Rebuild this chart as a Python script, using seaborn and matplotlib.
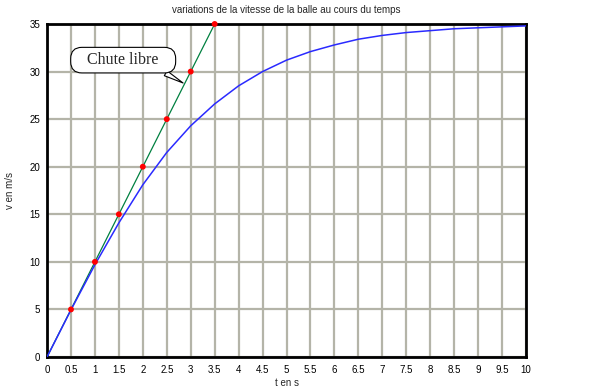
import numpy as np
import pandas as pd
import seaborn as sns
import matplotlib.pyplot as plt
from matplotlib.ticker import MultipleLocator, FuncFormatter

# vitesse de la balle
t_balle = [0, 0.5, 1, 1.5, 2, 2.5, 3, 3.5, 4, 4.5, 5, 5.5, 6, 6.5, 7, 7.5, 8, 8.5, 9, 9.5, 10]
v_balle = [0, 4.95, 9.7, 14.1, 18.1, 21.5, 24.3, 26.6, 28.5, 30.0, 31.2, 32.1, 32.8, 33.4,
           33.8, 34.1, 34.3, 34.5, 34.6, 34.7, 34.8]

# chute libre
t_libre = [0, 3.5]
v_libre = [0, 35]
t_points = [0.5, 1, 1.5, 2, 2.5, 3, 3.5]
v_points = [5, 10, 15, 20, 25, 30, 35]

df_balle = pd.DataFrame({'t': t_balle, 'v': v_balle})
df_libre = pd.DataFrame({'t': t_libre, 'v': v_libre})
df_points = pd.DataFrame({'t': t_points, 'v': v_points})

sns.set_style("white")
plt.rcParams['font.family'] = ['Liberation Sans', 'DejaVu Sans']

fig = plt.figure(figsize=(6.06, 3.92), dpi=100)
ax = fig.add_axes([0.0776, 0.0893, 0.7904, 0.8495])

sns.lineplot(data=df_libre, x='t', y='v', color='#008040', linewidth=0.9, ax=ax, zorder=3)
sns.lineplot(data=df_balle, x='t', y='v', color='#2a2aff', linewidth=1.1, ax=ax, zorder=3)
sns.scatterplot(data=df_points, x='t', y='v', color='red', s=18, edgecolor='none', ax=ax,
                zorder=4, clip_on=False)

ax.set_xlim(0, 10)
ax.set_ylim(0, 35)
ax.xaxis.set_major_locator(MultipleLocator(0.5))
ax.yaxis.set_major_locator(MultipleLocator(5))
ax.xaxis.set_major_formatter(FuncFormatter(lambda x, p: f"{x:g}"))
ax.grid(True, color='#b4b4a8', linewidth=1.6)
ax.set_axisbelow(True)

for s in ax.spines.values():
    s.set_visible(True)
    s.set_color('black')
    s.set_linewidth(2)

ax.tick_params(axis='both', direction='out', length=3, width=1, labelsize=7, pad=2,
               colors='black')
ax.tick_params(axis='x', pad=3)

ax.set_title("variations de la vitesse de la balle au cours du temps", fontsize=7, pad=8)
ax.set_xlabel("t en s", fontsize=7, labelpad=2)
ax.set_ylabel("v en m/s", fontsize=7, labelpad=10)

ax.annotate("   Chute libre   ", xy=(2.84, 28.8), xytext=(1.59, 31.2),
            fontsize=11.5, family='Liberation Serif', ha='center', va='center',
            bbox=dict(boxstyle="round,pad=0.3,rounding_size=0.7", fc='white', ec='black', lw=0.8),
            arrowprops=dict(arrowstyle="wedge,tail_width=0.35,shrink_factor=0.5",
                            fc='white', ec='black', lw=0.8, shrinkA=0, shrinkB=0,
                            relpos=(0.85, 0.0)),
            zorder=5)

plt.savefig("out.png", dpi=100)
plt.close()
